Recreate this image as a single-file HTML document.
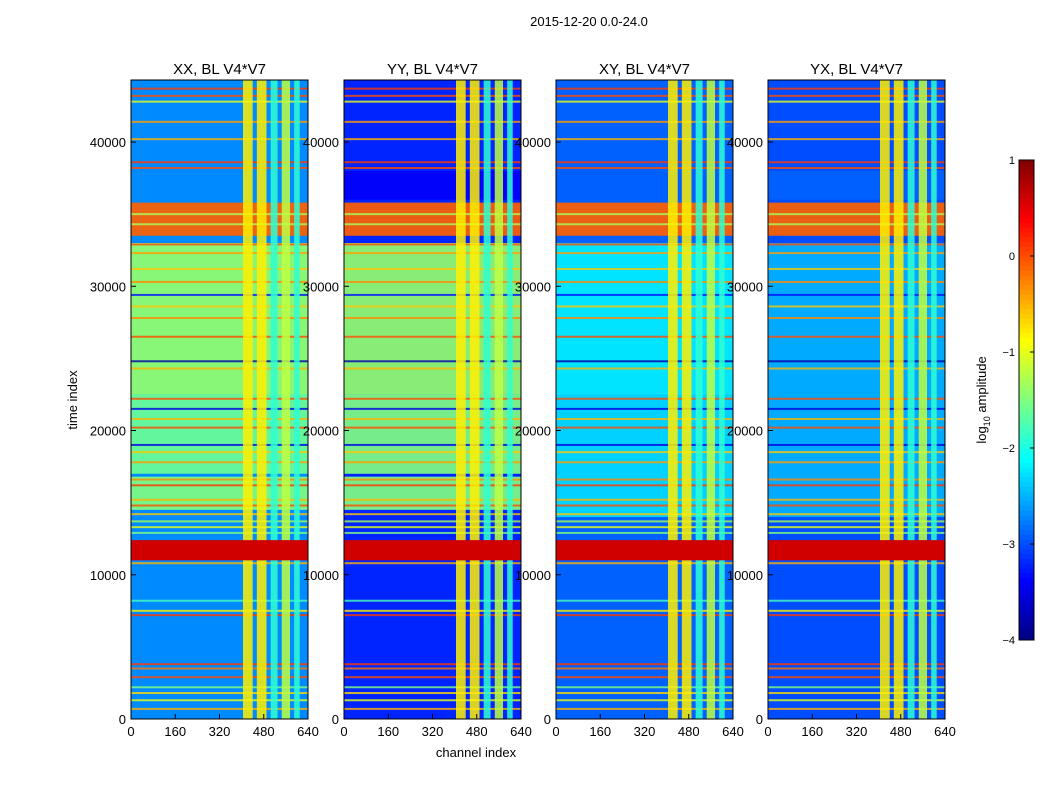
<!DOCTYPE html>
<html><head><meta charset="utf-8"><style>
body{margin:0;background:#fff;}
svg text{font-family:"Liberation Sans",sans-serif;}
</style></head><body>
<svg id="fig" width="1050" height="800" xmlns="http://www.w3.org/2000/svg">
<rect width="1050" height="800" fill="#fff"/>
<text x="589" y="26" font-size="13" text-anchor="middle">2015-12-20 0.0-24.0</text>
<text x="476" y="757" font-size="13" text-anchor="middle">channel index</text>
<text transform="translate(77,400) rotate(-90)" font-size="13" text-anchor="middle">time index</text>
<g id="panels"></g>
<g id="cbar"></g>
</svg>
<script>
const titles = ["XX, BL V4*V7","YY, BL V4*V7","XY, BL V4*V7","YX, BL V4*V7"];
const panelLeft = [131,344,556,768];
const bgValues = [-2.7,-3.2,-2.9,-3.0];
const xTicks = [0,160,320,480,640];
const yTicks = [0,10000,20000,30000,40000];
const cbTicks = [1,0,-1,-2,-3,-4];
const cbLabels = ["1","0","\u22121","\u22122","\u22123","\u22124"];
// channel stripes [start, end, log value]
const vStripes = [[405,440,-0.8],[455,490,-0.8],[505,530,-1.9],[545,575,-1.2],[590,610,-1.9]];
// broad time bands per panel [t0, t1, value]
const bandsXX = [[14500,16800,-1.5],[17000,22500,-1.6],[22500,33000,-1.4],[33500,35800,-0.1],[36000,38000,-2.7]];
const bandsYY = [[14500,16800,-1.5],[17000,22500,-1.5],[22500,33000,-1.4],[33500,35800,-0.1],[36000,38000,-3.4]];
const bandsXY = [[14000,22500,-2.3],[22500,33000,-2.2],[33500,35800,-0.1],[36000,38000,-2.9]];
const bandsYX = [[14000,33000,-2.5],[33500,35800,-0.1],[36000,38000,-2.9]];
const hotBand = [[11000,12400,0.6]];
// thin lines shared [t, value]
const thinLines = [[700,-0.5],[1300,-1],[1800,-0.7],[2200,-1.5],[2900,0],[3500,-0.2],[3800,0.1],[7200,0.1],[7500,-0.8],[8200,-1.8],[10800,-0.5],[12900,-1.5],[13300,-1],[13700,-1.3],[14200,-0.6],[14800,0],[15200,-0.5],[16200,0.1],[16600,-0.3],[17800,-0.4],[18500,-0.6],[19000,-3.5],[20200,0],[20800,-0.5],[21500,-3.5],[22200,0],[24300,-0.5],[24800,-3.8],[26500,0],[27800,-0.3],[28600,-0.6],[29400,-3.3],[30300,-0.3],[31200,-0.6],[32300,-0.4],[32900,0],[34300,-1.3],[35000,-1.3],[38200,0],[38600,0.1],[40200,-0.5],[41400,-0.4],[42800,-1],[43200,0],[43700,0.1]];
const panelBands = [bandsXX,bandsYY,bandsXY,bandsYX];

const W=177, TOP=80, BOT=719, TMAX=44300;
function jet(v){const t=Math.max(0,Math.min(1,(v+4)/5));const c=x=>Math.round(255*Math.max(0,Math.min(1,1.5-Math.abs(4*t-x))));return `rgb(${c(3)},${c(2)},${c(1)})`;}
function yS(t){return BOT-t/TMAX*(BOT-TOP);}
const NS="http://www.w3.org/2000/svg";
function mk(tag,attrs,parent){const e=document.createElementNS(NS,tag);for(const k in attrs)e.setAttribute(k,attrs[k]);parent.appendChild(e);return e;}
const root=document.getElementById('panels');
titles.forEach((ti,p)=>{
  const x0=panelLeft[p]; const xS=c=>x0+c/640*W;
  const g=mk('g',{},root);
  
  
  const bg=mk('rect',{x:x0,y:TOP,width:W,height:BOT-TOP,fill:jet(bgValues[p])},g);
  
  
  panelBands[p].forEach(b=>{
    const r=mk('rect',{x:x0,y:yS(b[1]),width:W,height:yS(b[0])-yS(b[1]),fill:jet(b[2]),opacity:0.92},g);
    
    
  });
  thinLines.forEach(l=>{
    const r=mk('rect',{x:x0,y:yS(l[0])-1,width:W,height:2,fill:jet(l[1]),opacity:0.8},g);
    
    
  });
  vStripes.forEach(s=>{
    const r=mk('rect',{x:xS(s[0]),y:TOP,width:xS(s[1])-xS(s[0]),height:BOT-TOP,fill:jet(s[2]),opacity:0.85},g);
    
    
  });
  hotBand.forEach(b=>{
    const r=mk('rect',{x:x0,y:yS(b[1]),width:W,height:yS(b[0])-yS(b[1]),fill:jet(b[2])},g);
    
    
  });
  const fr=mk('rect',{x:x0,y:TOP,width:W,height:BOT-TOP,fill:'none',stroke:'#000','stroke-width':1},g);
  
  
  const tt=mk('text',{x:x0+W/2,y:TOP-6,'font-size':15,'text-anchor':'middle'},g);tt.textContent=ti;
  
  
  xTicks.forEach(v=>{
    mk('line',{x1:xS(v),x2:xS(v),y1:BOT,y2:BOT-5,stroke:'#000'},g);
    const t=mk('text',{x:xS(v),y:BOT+17,'font-size':13,'text-anchor':'middle'},g);t.textContent=v;
    
    
  });
  yTicks.forEach(v=>{
    mk('line',{x1:x0,x2:x0+5,y1:yS(v),y2:yS(v),stroke:'#000'},g);
    const t=mk('text',{x:x0-5,y:yS(v)+5,'font-size':13,'text-anchor':'end'},g);t.textContent=v;
    
    
  });
});
// colorbar
const cb=document.getElementById('cbar');


const cx=1019,cw=15,ct=160,cbot=640;
const cyS=v=>cbot-(v+4)/5*(cbot-ct);
for(let i=0;i<100;i++){const v=-4+i*0.05;mk('rect',{x:cx,y:cyS(v+0.05),width:cw,height:cyS(v)-cyS(v+0.05)+0.5,fill:jet(v+0.025)},cb);}
mk('rect',{x:cx,y:ct,width:cw,height:cbot-ct,fill:'none',stroke:'#000'},cb);
cbTicks.forEach((v,i)=>{
  mk('line',{x1:cx+cw-4,x2:cx+cw,y1:cyS(v),y2:cyS(v),stroke:'#000'},cb);
  const t=mk('text',{x:cx-4,y:cyS(v)+4,'font-size':11,'text-anchor':'end'},cb);t.textContent=cbLabels[i];
  
  
});
const lab=mk('text',{transform:'translate(986,400) rotate(-90)','font-size':13,'text-anchor':'middle'},cb);
lab.innerHTML='log<tspan font-size="9" dy="4">10</tspan><tspan dy="-4"> amplitude</tspan>';


</script>
</body></html>
